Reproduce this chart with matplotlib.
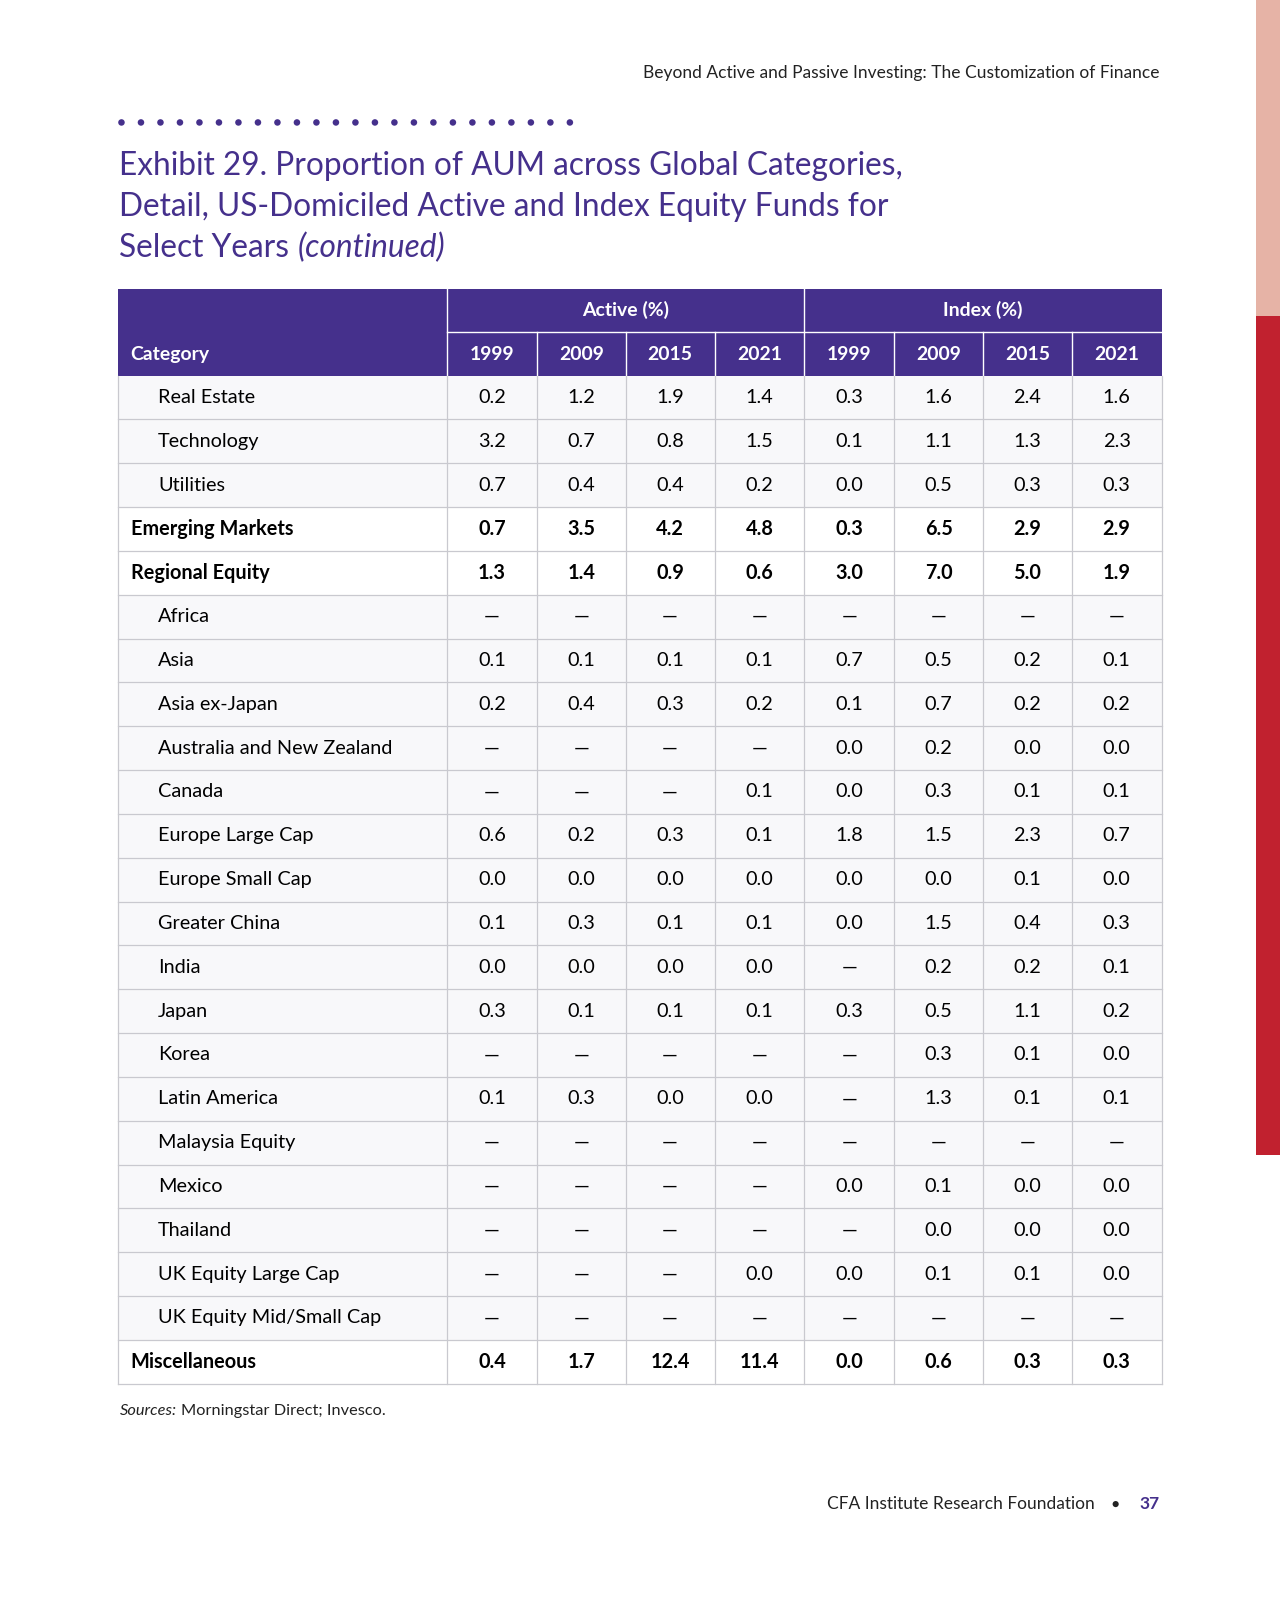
import matplotlib
matplotlib.use('Agg')
import matplotlib.pyplot as plt
from matplotlib.patches import Rectangle

plt.rcParams['font.family'] = ['Lato', 'DejaVu Sans']

W, H = 1254, 1568          # reference page coordinates
S = 1280 / W               # scale to output pixels
def fs(px):                # font size from pixel height
    return px * 0.72 * S

PURPLE = '#45308C'
GRID = '#C9C9CF'
D = '\u2014'

years = ['1999', '2009', '2015', '2021']
categories = ['Real Estate', 'Technology', 'Utilities', 'Emerging Markets', 'Regional Equity',
              'Africa', 'Asia', 'Asia ex-Japan', 'Australia and New Zealand', 'Canada',
              'Europe Large Cap', 'Europe Small Cap', 'Greater China', 'India', 'Japan', 'Korea',
              'Latin America', 'Malaysia Equity', 'Mexico', 'Thailand', 'UK Equity Large Cap',
              'UK Equity Mid/Small Cap', 'Miscellaneous']
bold_rows = {'Emerging Markets', 'Regional Equity', 'Miscellaneous'}
active = [
    ['0.2', '1.2', '1.9', '1.4'], ['3.2', '0.7', '0.8', '1.5'], ['0.7', '0.4', '0.4', '0.2'],
    ['0.7', '3.5', '4.2', '4.8'], ['1.3', '1.4', '0.9', '0.6'], [D, D, D, D],
    ['0.1', '0.1', '0.1', '0.1'], ['0.2', '0.4', '0.3', '0.2'], [D, D, D, D],
    [D, D, D, '0.1'], ['0.6', '0.2', '0.3', '0.1'], ['0.0', '0.0', '0.0', '0.0'],
    ['0.1', '0.3', '0.1', '0.1'], ['0.0', '0.0', '0.0', '0.0'], ['0.3', '0.1', '0.1', '0.1'],
    [D, D, D, D], ['0.1', '0.3', '0.0', '0.0'], [D, D, D, D], [D, D, D, D], [D, D, D, D],
    [D, D, D, '0.0'], [D, D, D, D], ['0.4', '1.7', '12.4', '11.4']]
index = [
    ['0.3', '1.6', '2.4', '1.6'], ['0.1', '1.1', '1.3', '2.3'], ['0.0', '0.5', '0.3', '0.3'],
    ['0.3', '6.5', '2.9', '2.9'], ['3.0', '7.0', '5.0', '1.9'], [D, D, D, D],
    ['0.7', '0.5', '0.2', '0.1'], ['0.1', '0.7', '0.2', '0.2'], ['0.0', '0.2', '0.0', '0.0'],
    ['0.0', '0.3', '0.1', '0.1'], ['1.8', '1.5', '2.3', '0.7'], ['0.0', '0.0', '0.1', '0.0'],
    ['0.0', '1.5', '0.4', '0.3'], [D, '0.2', '0.2', '0.1'], ['0.3', '0.5', '1.1', '0.2'],
    [D, '0.3', '0.1', '0.0'], [D, '1.3', '0.1', '0.1'], [D, D, D, D], ['0.0', '0.1', '0.0', '0.0'],
    [D, '0.0', '0.0', '0.0'], ['0.0', '0.1', '0.1', '0.0'], [D, D, D, D], ['0.0', '0.6', '0.3', '0.3']]

fig = plt.figure(figsize=(12.8, 16), dpi=100)
ax = fig.add_axes([0, 0, 1, 1])
ax.set_xlim(0, W)
ax.set_ylim(H, 0)
ax.set_axis_off()

# right edge bars
ax.add_patch(Rectangle((1230, 0), 30, 310, color='#E6B3A6', lw=0))
ax.add_patch(Rectangle((1230, 310), 30, 822, color='#C1212F', lw=0))

ax.text(1136, 72, 'Beyond Active and Passive Investing: The Customization of Finance',
        ha='right', va='center', fontsize=fs(17), color='#222222')

# dotted rule
for i in range(24):
    ax.add_patch(plt.Circle((119 + i * 19.1, 120), 3.2, color=PURPLE, lw=0))

title_lines = ['Exhibit 29. Proportion of AUM across Global Categories,',
               'Detail, US-Domiciled Active and Index Equity Funds for']
for i, t in enumerate(title_lines):
    ax.text(117, 163 + i * 40, t, ha='left', va='center', fontsize=fs(31), color=PURPLE)
t1 = ax.text(117, 243, 'Select Years ', ha='left', va='center', fontsize=fs(31), color=PURPLE)
fig.canvas.draw()
bb = t1.get_window_extent()
x_end = ax.transData.inverted().transform((bb.x1, bb.y0))[0]
ax.text(x_end, 243, '(continued)', ha='left', va='center', fontsize=fs(31),
        color=PURPLE, style='italic')

# table geometry
L, R = 116, 1138
cols = [438, 526, 613, 700, 788, 876, 963, 1050, 1138]
h1, h2, h3 = 283, 325, 368
rh = (1356 - h3) / len(categories)

ax.add_patch(Rectangle((L, h1), R - L, h3 - h1, color=PURPLE, lw=0))
ax.plot([cols[0], R], [h2, h2], color='white', lw=1)
for x in cols[:-1]:
    y0 = h1 if x in (438, 788) else h2
    ax.plot([x, x], [y0, h3], color='white', lw=1)
ax.text((438 + 788) / 2, 304, 'Active (%)', ha='center', va='center',
        fontsize=fs(19), color='white', fontweight='bold')
ax.text((788 + 1138) / 2, 304, 'Index (%)', ha='center', va='center',
        fontsize=fs(19), color='white', fontweight='bold')
ax.text(128, 347, 'Category', ha='left', va='center', fontsize=fs(19),
        color='white', fontweight='bold')
for j, y in enumerate(years + years):
    ax.text((cols[j] + cols[j + 1]) / 2, 347, y, ha='center', va='center',
            fontsize=fs(19), color='white', fontweight='bold')

for i, cat in enumerate(categories):
    y0 = h3 + i * rh
    b = cat in bold_rows
    ax.add_patch(Rectangle((L, y0), R - L, rh, facecolor='white' if b else '#F8F8FA',
                           edgecolor='none'))
    ax.plot([L, R], [y0 + rh, y0 + rh], color=GRID, lw=0.9)
    yc = y0 + rh / 2
    ax.text(128 if b else 155, yc, cat, ha='left', va='center', fontsize=fs(19.5),
            color='black', fontweight='bold' if b else 'normal')
    for j, v in enumerate(active[i] + index[i]):
        ax.text((cols[j] + cols[j + 1]) / 2, yc, v, ha='center', va='center',
                fontsize=fs(19.5), color='black', fontweight='bold' if b else 'normal')
for x in [L] + cols:
    ax.plot([x, x], [h3, 1356], color=GRID, lw=0.9)

t2 = ax.text(117, 1383, 'Sources:', ha='left', va='center', fontsize=fs(16),
             style='italic', color='#222222')
fig.canvas.draw()
bb = t2.get_window_extent()
x_end = ax.transData.inverted().transform((bb.x1, bb.y0))[0]
ax.text(x_end + 4, 1383, 'Morningstar Direct; Invesco.', ha='left', va='center',
        fontsize=fs(16), color='#222222')

ax.text(1073, 1474, 'CFA Institute Research Foundation', ha='right', va='center',
        fontsize=fs(17), color='#222222')
ax.add_patch(plt.Circle((1093, 1474), 3, color='#222222', lw=0))
ax.text(1136, 1474, '37', ha='right', va='center', fontsize=fs(17),
        color=PURPLE, fontweight='bold')

fig.savefig('out.png', dpi=100, facecolor='white')
